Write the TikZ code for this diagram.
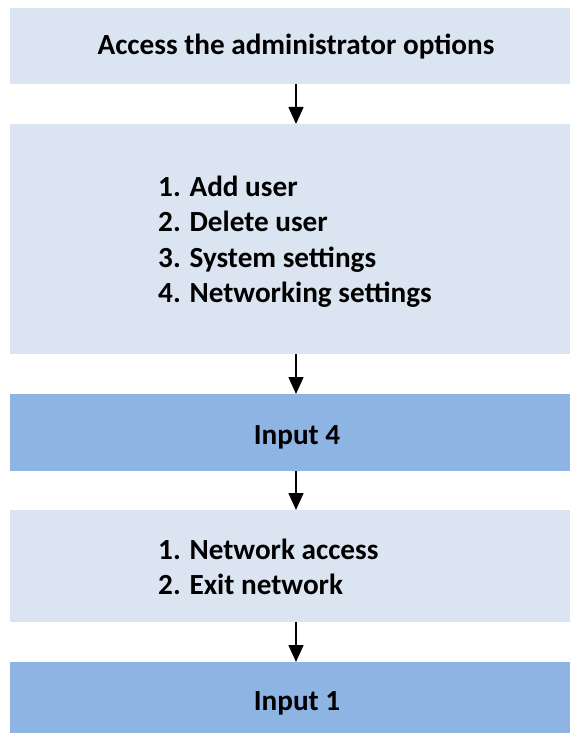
\documentclass[tikz,border=0pt]{standalone}
\usepackage{fontspec}
\setmainfont{Carlito}
\usetikzlibrary{arrows.meta}
\definecolor{lightbox}{HTML}{DBE5F1}
\definecolor{darkbox}{HTML}{8EB4E3}
\begin{document}
\begin{tikzpicture}[x=1pt,y=-1pt,
  lbox/.style={fill=lightbox,draw=none},
  dbox/.style={fill=darkbox,draw=none},
  txt/.style={font=\fontsize{29.2}{35.4}\selectfont\bfseries,inner sep=0pt,anchor=base},
  ltxt/.style={txt,anchor=base west},
  flow/.style={line width=1.6pt,-{Triangle[width=15pt,length=17pt]}}]
\useasboundingbox (0,0) rectangle (570,733);
\fill[lbox] (10,8) rectangle (570,84);
\coordinate (b1b) at (296,84);
\coordinate (b2t) at (296,124);
\fill[lbox] (10,124) rectangle (570,354);
\coordinate (b2b) at (296,354);
\coordinate (b3t) at (296,394);
\fill[dbox] (10,394) rectangle (570,471);
\coordinate (b3b) at (296,471);
\coordinate (b4t) at (296,510);
\fill[lbox] (10,510) rectangle (570,622);
\coordinate (b4b) at (296,622);
\coordinate (b5t) at (296,662);
\fill[dbox] (10,662) rectangle (570,733);
\node[txt] (t1) at (296,55) {Access the administrator options};
\node[ltxt] (l1) at (158,196) {1. Add user};
\node[ltxt] (l2) at (158,231.5) {2. Delete user};
\node[ltxt] (l3) at (158,267) {3. System settings};
\node[ltxt] (l4) at (158,302.5) {4. Networking settings};
\node[txt] (t3) at (297,444) {Input 4};
\node[ltxt] (m1) at (158,559) {1. Network access};
\node[ltxt] (m2) at (158,594.5) {2. Exit network};
\node[txt] (t5) at (297,710) {Input 1};
\draw[flow] (b1b) -- (b2t);
\draw[flow] (b2b) -- (b3t);
\draw[flow] (b3b) -- (b4t);
\draw[flow] (b4b) -- (b5t);
\end{tikzpicture}
\end{document}
